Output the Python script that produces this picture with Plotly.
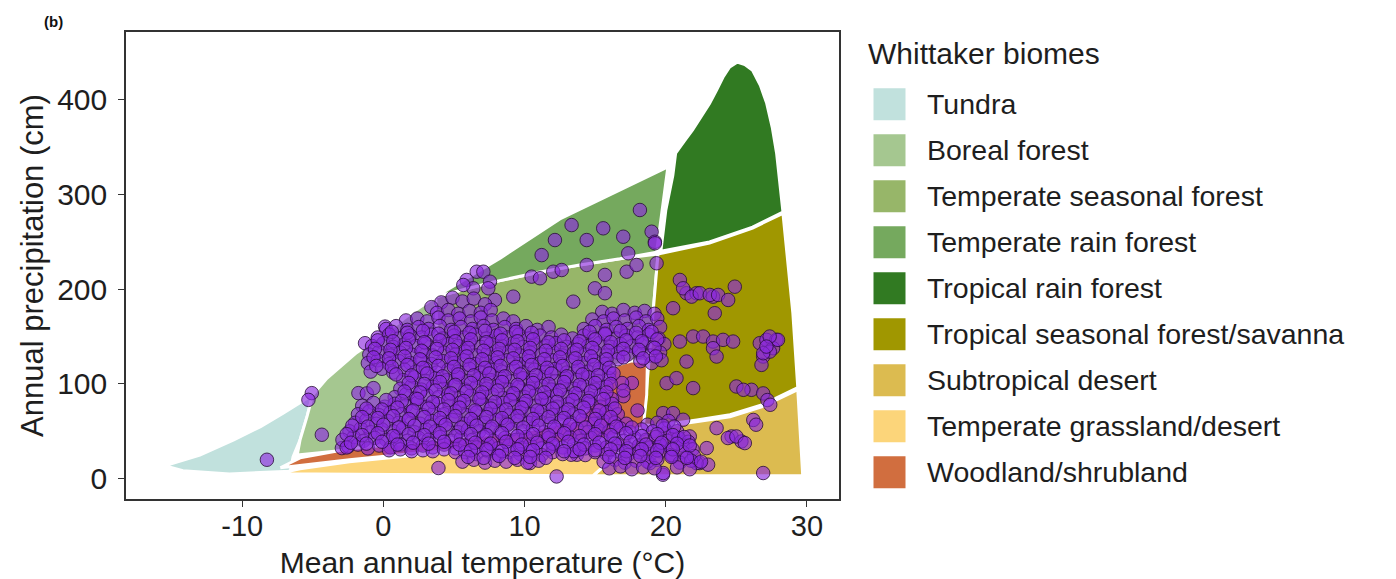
import plotly.graph_objects as go

# ---------------- data ----------------
biome_names = ["Tundra", "Boreal forest", "Temperate seasonal forest",
               "Temperate rain forest", "Tropical rain forest",
               "Tropical seasonal forest/savanna", "Subtropical desert",
               "Temperate grassland/desert", "Woodland/shrubland"]
biome_colors = ["#C1E1DD", "#A5C790", "#97B669", "#75A95E", "#317A22",
                "#A09700", "#DCBB50", "#FCD57A", "#D16E3F"]

tundra_temp = [-15.5, -13.0, -10.6, -8.7, -7.1, -5.9, -5.0, -5.4, -5.9, -6.4, -6.6, -10.9, -14.2]
tundra_precip = [13.7, 25, 41, 55, 69, 80, 88.5, 66, 41, 23, 8, 5, 8.5]

boreal_temp = [-6.1, -5.9, -5.4, -5.0, -4.0, -1.9, -0.2, 1.9, 3.7, 3.9, 4.2, 1.9, -2.4]
boreal_precip = [25, 41, 66, 88.5, 106, 133, 150, 174, 192, 125, 38, 35, 30.5]

temp_seasonal_temp = [3.7, 7.8, 11.1, 13.9, 16.75, 19.45, 19.1, 18.85, 17.6, 16.4, 15.7, 15.1, 13.6, 10.4, 6.1, 4.2, 3.9]
temp_seasonal_precip = [192, 207.6, 218, 225.5, 232, 237, 175, 122, 124.3, 119, 104.3, 83.2, 62.2, 51.6, 44.3, 40, 125]

temp_rain_temp = [3.7, 8.3, 12.5, 16.75, 20.15, 19.35, 16.75, 13.9, 11.1, 7.8]
temp_rain_precip = [192, 233, 274, 304.5, 329, 239, 232, 225.5, 218, 207.6]

trop_rain_temp = [20.7, 20.5, 20.0, 19.65, 23.1, 26.15, 28.3, 28.1, 27.85, 27.55, 27.15, 26.7, 26.15,
                  25.6, 25.05, 24.5, 24.05, 23.6, 23.1, 22.5, 21.9, 21.3]
trop_rain_precip = [343.5, 320, 283, 240, 249.7, 265.5, 281.3, 310, 343.5, 370, 396, 415, 431,
                    437, 439.5, 434, 423.5, 410, 396, 382, 368, 356]

trop_seasonal_temp = [19.45, 19.1, 18.85, 18.6, 18.4, 19.25, 22.2, 24.55, 26.85, 29.35, 29.0, 28.3, 26.15, 23.1]
trop_seasonal_precip = [237, 175, 122, 86.5, 57, 56, 62, 67.5, 78, 96, 175, 280, 264.5, 248.7]

subtrop_temp = [14.85, 29.7, 29.35, 26.85, 24.55, 22.2, 19.25, 18.4]
subtrop_precip = [3.2, 3.2, 94, 76, 65.3, 60, 53.7, 49.5]

grassland_temp = [-7.5, 14.85, 18.2, 15.3, 11.1, 6.8, 2.6, -2.4, -5.9]
grassland_precip = [5.3, 3.2, 47.4, 39, 33.7, 29.5, 25.3, 17.9, 10.5]

woodland_temp = [-7.3, -5.9, -2.4, 1.9, 6.1, 10.4, 13.6, 15.1, 15.7, 16.4, 17.6, 18.7, 18.65, 18.4, 15.3, 11.1, 6.8, 2.6, -2.4, -5.9]
woodland_precip = [11.6, 22, 31.6, 37.9, 44.3, 51.6, 62.2, 83.2, 104.3, 119, 124.3, 123.3, 88.5, 53.7, 41, 35.8, 31.6, 27.4, 20, 13.7]

biome_polygons = [
    (tundra_temp, tundra_precip),
    (boreal_temp, boreal_precip),
    (temp_seasonal_temp, temp_seasonal_precip),
    (temp_rain_temp, temp_rain_precip),
    (trop_rain_temp, trop_rain_precip),
    (trop_seasonal_temp, trop_seasonal_precip),
    (subtrop_temp, subtrop_precip),
    (grassland_temp, grassland_precip),
    (woodland_temp, woodland_precip),
]

# sites: (mean annual temperature, annual precipitation)
sites_sparse = [
    (-8.25, 20), (-5.07, 90.3), (-5.31, 83.2), (-4.36, 46.4), (-1.3, 143), (0.12, 160.5),
    (-1.77, 90.3), (-1.17, 90), (-0.7, 95.6), (-2.94, 32.3), (-2.48, 34), (3.9, 11.3),
    (12.27, 2.4), (10.38, 16.5), (13.7, 25.3), (13.3, 25.3),
    (26.9, 6.0), (19.8, 4.2), (23.6, 53.4), (24.66, 44.6), (25.36, 39.3), (26.2, 62), (26.4, 57),
    (26.07, 93.8), (26.9, 90), (27.2, 83), (27.4, 78), (25.0, 97.3), (25.5, 93.8),
    (26.66, 143), (27.13, 146.5), (27.84, 146.5), (27.6, 137.7), (26.9, 128.9), (26.78, 120.1),
    (27.37, 134.1), (27.95, 146.5), (27.36, 150), (26.9, 132.4), (27.13, 139.4),
    (20.06, 100.8), (20.76, 106.1), (21.94, 95.6),
    (21.94, 150), (22.65, 150), (23.35, 144.7), (24.06, 146.5), (24.77, 144.7), (23.35, 137.7),
    (23.6, 128.9), (21.0, 144.7), (21.47, 123.6),
    (20.52, 179.9), (21.47, 195.7), (22.18, 195.7), (23.35, 192.1), (21.0, 209.7), (21.23, 200.9),
    (21.83, 192.1), (22.41, 195.7), (23.12, 193.9), (23.71, 193.9), (24.42, 188.6), (24.89, 202.6),
    (23.47, 174.6),
    (18.17, 283.5), (19.0, 260.6), (19.23, 250), (19.35, 227.3),
    (22.9, 32.3), (22.4, 16.5), (23.0, 14.8), (24.4, 42.9), (25.0, 44.6), (25.6, 37.6),
    (19.82, 69.2), (20.52, 69.2), (21.23, 62.2), (20.06, 48.2), (21.0, 41.1), (21.7, 44.6),
    (19.58, 34.0), (20.52, 23.5), (21.47, 23.5), (22.18, 16.5), (19.82, 6.0), (18.87, 16.5),
    (13.33, 267.6), (15.57, 264.2), (14.4, 251.8), (12.15, 251.8), (16.99, 255.3), (19.23, 248.4),
    (11.21, 235.9), (10.5, 213.2), (11.09, 211.5), (12.03, 218.4), (12.63, 220.2), (14.4, 225.5),
    (15.69, 215), (17.23, 218.4), (17.93, 225.5), (17.34, 237.8), (14.98, 200.9), (15.69, 195.7),
    (9.2, 192.1), (7.9, 188.6), (13.45, 186.8), (5.9, 209.7), (6.61, 218.4), (7.08, 218.4),
    (7.55, 207.9), (6.37, 200.9), (5.66, 204.4), (7.43, 200.9),
    (4.1, 186), (4.9, 191), (5.6, 187), (6.4, 190), (3.4, 181), (7.2, 184),
    (17.6, 101), (17.0, 87), (18.0, 72),
]

sites_cloud_a = [
    (3.8, 175), (4.6, 178), (5.3, 174), (6.1, 177), (6.9, 175), (7.6, 178), (15.5, 176), (16.2, 174),
    (17.0, 178), (17.8, 175), (18.5, 177), (19.2, 174),
    (1.6, 167), (2.4, 169), (3.1, 166), (3.9, 170), (4.6, 167), (5.4, 169), (6.2, 166), (6.9, 170),
    (7.7, 167), (8.5, 169), (9.2, 166), (14.8, 168), (15.6, 166), (16.3, 169), (17.1, 167), (17.9, 170),
    (18.6, 166), (19.4, 169),
    (0.2, 158), (0.9, 161), (1.7, 157), (2.5, 160), (3.2, 158), (4.0, 161), (4.8, 157), (5.5, 160),
    (6.3, 158), (7.1, 161), (7.8, 157), (8.6, 160), (9.4, 158), (10.1, 161), (10.9, 157), (11.7, 160),
    (14.2, 158), (15.0, 161), (15.8, 157), (16.5, 160), (17.3, 158), (18.1, 161), (18.8, 157), (19.6, 160),
    (-0.4, 149), (0.4, 152), (1.1, 148), (1.9, 151), (2.7, 149), (3.4, 152), (4.2, 148), (5.0, 151),
    (5.7, 149), (6.5, 152), (7.3, 148), (8.0, 151), (8.8, 149), (9.6, 152), (10.3, 148), (11.1, 151),
    (11.9, 149), (12.6, 152), (13.4, 148), (14.2, 151), (14.9, 149), (15.7, 152), (16.5, 148), (17.2, 151),
    (18.0, 149), (18.8, 152), (19.5, 148),
    (-0.8, 140), (0.0, 143), (0.7, 139), (1.5, 142), (2.3, 140), (3.0, 143), (3.8, 139), (4.6, 142),
    (5.3, 140), (6.1, 143), (6.9, 139), (7.6, 142), (8.4, 140), (9.2, 143), (9.9, 139), (10.7, 142),
    (11.5, 140), (12.2, 143), (13.0, 139), (13.8, 142), (14.5, 140), (15.3, 143), (16.1, 139), (16.8, 142),
    (17.6, 140), (18.4, 143), (19.1, 139), (19.9, 142),
    (-1.0, 131), (-0.3, 134), (0.5, 130), (1.2, 133), (2.0, 131), (2.8, 134), (3.5, 130), (4.3, 133),
    (5.1, 131), (5.8, 134), (6.6, 130), (7.4, 133), (8.1, 131), (8.9, 134), (9.7, 130), (10.4, 133),
    (11.2, 131), (12.0, 134), (12.7, 130), (13.5, 133), (14.3, 131), (15.0, 134), (15.8, 130), (16.6, 133),
    (17.3, 131), (18.1, 134), (18.9, 130), (19.6, 133),
    (-1.1, 122), (-0.4, 125), (0.4, 121), (1.1, 124), (1.9, 122), (2.7, 125), (3.4, 121), (4.2, 124),
    (5.0, 122), (5.7, 125), (6.5, 121), (7.3, 124), (8.0, 122), (8.8, 125), (9.6, 121), (10.3, 124),
    (11.1, 122), (11.9, 125), (12.6, 121), (13.4, 124), (14.2, 122), (14.9, 125), (15.7, 121), (16.6, 126),
    (18.2, 124), (19.0, 122), (19.7, 125),
    (-0.9, 113), (-0.1, 116), (0.7, 112), (1.5, 115), (2.3, 113), (3.0, 116), (3.8, 112), (4.6, 115),
    (5.3, 113), (6.1, 116), (6.9, 112), (7.6, 115), (8.4, 113), (9.2, 116), (9.9, 112), (10.7, 115),
    (11.5, 113), (12.2, 116), (13.0, 112), (13.8, 115), (14.5, 113), (15.3, 116), (16.0, 112),
    (1.4, 104), (2.2, 107), (3.0, 103), (3.7, 106), (4.5, 104), (5.3, 107), (6.0, 103), (6.8, 106),
    (7.6, 104), (8.3, 107), (9.1, 103), (9.9, 106), (10.6, 104), (11.4, 107), (12.2, 103), (12.9, 106),
    (13.7, 104), (14.5, 107), (15.2, 103), (16.0, 106), (16.9, 101),
    (1.2, 95), (2.0, 98), (2.7, 94), (3.5, 97), (4.3, 95), (5.0, 98), (5.8, 94), (6.6, 97),
    (7.3, 95), (8.1, 98), (8.9, 94), (9.6, 97), (10.4, 95), (11.2, 98), (11.9, 94), (12.7, 97),
    (13.5, 95), (14.2, 98), (15.0, 94), (15.8, 97), (17.0, 93),
    (0.8, 86), (1.6, 89), (2.3, 85), (3.1, 88), (3.9, 86), (4.6, 89), (5.4, 85), (6.2, 88),
    (6.9, 86), (7.7, 89), (8.5, 85), (9.2, 88), (10.0, 86), (10.8, 89), (11.5, 85), (12.3, 88),
    (13.1, 86), (13.8, 89), (14.6, 85), (15.4, 88), (16.2, 84),
    (-1.5, 77), (-0.7, 80), (0.1, 76), (0.8, 79), (1.6, 77), (2.4, 80), (3.1, 76), (3.9, 79),
    (4.7, 77), (5.4, 80), (6.2, 76), (7.0, 79), (7.7, 77), (8.5, 80), (9.3, 76), (10.0, 79),
    (10.8, 77), (11.6, 80), (12.3, 76), (13.1, 79), (13.9, 77), (14.6, 80), (15.4, 76), (16.2, 79),
    (-1.8, 68), (-1.0, 71), (-0.3, 67), (0.5, 70), (1.3, 68), (2.0, 71), (2.8, 67), (3.6, 70),
    (4.3, 68), (5.1, 71), (5.9, 67), (6.6, 70), (7.4, 68), (8.2, 71), (8.9, 67), (9.7, 70),
    (10.5, 68), (11.2, 71), (12.0, 67), (12.8, 70), (13.5, 68), (14.3, 71), (15.1, 67), (15.8, 70),
    (16.6, 68),
    (-2.0, 59), (-1.2, 62), (-0.5, 58), (0.3, 61), (1.1, 59), (1.8, 62), (2.6, 58), (3.4, 61),
    (4.1, 59), (4.9, 62), (5.7, 58), (6.4, 61), (7.2, 59), (8.0, 62), (8.7, 58), (9.5, 61),
    (10.3, 59), (11.0, 62), (11.8, 58), (12.6, 61), (13.3, 59), (14.1, 62), (14.9, 58), (15.6, 61),
    (16.4, 59), (17.2, 58), (18.7, 57), (19.4, 59), (20.2, 61),
    (-2.4, 50), (-1.6, 53), (-0.9, 49), (-0.1, 52), (0.7, 50), (1.4, 53), (2.2, 49), (3.0, 52),
    (3.7, 50), (4.5, 53), (5.3, 49), (6.0, 52), (6.8, 50), (7.6, 53), (8.3, 49), (9.1, 52),
    (9.9, 50), (10.6, 53), (11.4, 49), (12.2, 52), (12.9, 50), (13.7, 53), (14.5, 49), (15.2, 52),
    (16.0, 50), (16.8, 53), (17.5, 49), (18.3, 52), (19.1, 50), (19.9, 53), (20.8, 50),
    (-2.9, 41), (-2.1, 44), (-1.4, 40), (-0.6, 43), (0.2, 41), (0.9, 44), (1.7, 40), (2.5, 43),
    (3.2, 41), (4.0, 44), (4.8, 40), (5.5, 43), (6.3, 41), (7.1, 44), (7.8, 40), (8.6, 43),
    (9.4, 41), (10.1, 44), (10.9, 40), (11.7, 43), (12.4, 41), (13.2, 44), (14.0, 40), (14.7, 43),
    (15.5, 41), (16.3, 44), (17.0, 40), (17.8, 43), (18.6, 41), (19.3, 44), (20.1, 40), (20.9, 43),
    (21.6, 39),
    (-2.6, 33), (-1.8, 36), (-1.1, 32), (-0.3, 35), (0.5, 33), (1.2, 36), (2.0, 32), (2.8, 35),
    (3.5, 33), (4.3, 36), (5.1, 32), (5.8, 35), (6.6, 33), (7.4, 36), (8.1, 32), (8.9, 35),
    (9.7, 33), (10.4, 36), (11.2, 32), (12.0, 35), (12.7, 33), (13.5, 36), (14.3, 32), (15.0, 35),
    (15.8, 33), (16.6, 36), (17.3, 32), (18.1, 35), (18.9, 33), (19.6, 36), (20.4, 32), (21.2, 35),
    (21.9, 31),
    (0.4, 30), (1.2, 31), (2.0, 29), (2.8, 30), (3.5, 29), (4.3, 31), (5.1, 28), (5.8, 28),
    (6.6, 26), (7.4, 29), (8.1, 25), (8.9, 28), (9.7, 26), (10.4, 29), (11.2, 25), (12.0, 28),
    (12.7, 26), (13.5, 29), (14.3, 25), (15.0, 28), (15.8, 26), (16.6, 29), (17.3, 25), (18.1, 28),
    (18.9, 26), (19.6, 29), (20.4, 25), (21.2, 28), (22.0, 24),
    (5.6, 18), (6.4, 20), (7.2, 17), (7.9, 19), (8.7, 18), (9.5, 20), (10.2, 17), (11.0, 19),
    (15.6, 18), (16.4, 20), (17.1, 17), (17.9, 19), (18.7, 18), (19.4, 20), (21.0, 17), (21.8, 19),
    (22.5, 18),
    (16.0, 11), (16.8, 13), (17.6, 10), (18.4, 12), (19.2, 11), (20.8, 12), (21.7, 10),
]

sites_cloud_b = [
    (0.6, 155), (1.7, 154), (2.8, 156), (3.9, 153), (5.0, 155), (6.1, 154), (7.2, 156), (8.3, 153),
    (9.4, 155), (10.5, 154), (14.6, 155), (15.7, 153), (16.8, 156), (17.9, 154), (19.0, 155),
    (-0.4, 146), (0.7, 145), (1.8, 147), (2.9, 144), (4.0, 146), (5.1, 145), (6.2, 147), (7.3, 144),
    (8.4, 146), (9.5, 145), (10.6, 147), (11.7, 144), (12.8, 146), (13.9, 145), (15.0, 147), (16.1, 144),
    (17.2, 146), (18.3, 145), (19.4, 147),
    (-0.6, 137), (0.5, 136), (1.6, 138), (2.7, 135), (3.8, 137), (4.9, 136), (6.0, 138), (7.1, 135),
    (8.2, 137), (9.3, 136), (10.4, 138), (11.5, 135), (12.6, 137), (13.7, 136), (14.8, 138), (15.9, 135),
    (17.0, 137), (18.1, 136), (19.2, 138),
    (-0.7, 128), (0.4, 127), (1.5, 129), (2.6, 126), (3.7, 128), (4.8, 127), (5.9, 129), (7.0, 126),
    (8.1, 128), (9.2, 127), (10.3, 129), (11.4, 126), (12.5, 128), (13.6, 127), (14.7, 129), (15.8, 126),
    (17.0, 128), (18.4, 127), (19.3, 129),
    (-0.5, 119), (0.6, 118), (1.7, 120), (2.8, 117), (3.9, 119), (5.0, 118), (6.1, 120), (7.2, 117),
    (8.3, 119), (9.4, 118), (10.5, 120), (11.6, 117), (12.7, 119), (13.8, 118), (14.9, 120), (16.0, 117),
    (0.9, 110), (2.0, 109), (3.1, 111), (4.2, 108), (5.3, 110), (6.4, 109), (7.5, 111), (8.6, 108),
    (9.7, 110), (10.8, 109), (11.9, 111), (13.0, 108), (14.1, 110), (15.2, 109), (16.3, 111),
    (1.8, 101), (2.9, 100), (4.0, 102), (5.1, 99), (6.2, 101), (7.3, 100), (8.4, 102), (9.5, 99),
    (10.6, 101), (11.7, 100), (12.8, 102), (13.9, 99), (15.0, 101), (16.1, 100),
    (1.5, 92), (2.6, 91), (3.7, 93), (4.8, 90), (5.9, 92), (7.0, 91), (8.1, 93), (9.2, 90),
    (10.3, 92), (11.4, 91), (12.5, 93), (13.6, 90), (14.7, 92), (15.8, 91),
    (0.2, 83), (1.3, 82), (2.4, 84), (3.5, 81), (4.6, 83), (5.7, 82), (6.8, 84), (7.9, 81),
    (9.0, 83), (10.1, 82), (11.2, 84), (12.3, 81), (13.4, 83), (14.5, 82), (15.6, 84),
    (-1.2, 74), (-0.1, 73), (1.0, 75), (2.1, 72), (3.2, 74), (4.3, 73), (5.4, 75), (6.5, 72),
    (7.6, 74), (8.7, 73), (9.8, 75), (10.9, 72), (12.0, 74), (13.1, 73), (14.2, 75), (15.3, 72),
    (16.4, 74),
    (-1.5, 65), (-0.4, 64), (0.7, 66), (1.8, 63), (2.9, 65), (4.0, 64), (5.1, 66), (6.2, 63),
    (7.3, 65), (8.4, 64), (9.5, 66), (10.6, 63), (11.7, 65), (12.8, 64), (13.9, 66), (15.0, 63),
    (16.1, 65),
    (-2.2, 56), (-1.1, 55), (0.0, 57), (1.1, 54), (2.2, 56), (3.3, 55), (4.4, 57), (5.5, 54),
    (6.6, 56), (7.7, 55), (8.8, 57), (9.9, 54), (11.0, 56), (12.1, 55), (13.2, 57), (14.3, 54),
    (15.4, 56), (16.5, 55), (17.6, 54), (19.8, 56), (20.6, 55),
    (-2.6, 47), (-1.5, 46), (-0.4, 48), (0.7, 45), (1.8, 47), (2.9, 46), (4.0, 48), (5.1, 45),
    (6.2, 47), (7.3, 46), (8.4, 48), (9.5, 45), (10.6, 47), (11.7, 46), (12.8, 48), (13.9, 45),
    (15.0, 47), (16.1, 46), (17.2, 48), (18.3, 45), (19.4, 47), (20.5, 46), (21.3, 44),
    (-2.3, 38), (-1.2, 37), (-0.1, 39), (1.0, 36), (2.1, 38), (3.2, 37), (4.3, 39), (5.4, 36),
    (6.5, 38), (7.6, 37), (8.7, 39), (9.8, 36), (10.9, 38), (12.0, 37), (13.1, 39), (14.2, 36),
    (15.3, 38), (16.4, 37), (17.5, 39), (18.6, 36), (19.7, 38), (20.8, 37), (21.7, 35),
    (6.2, 30), (7.3, 31), (8.4, 29), (9.5, 31), (10.6, 30), (11.7, 31), (12.8, 29), (13.9, 31),
    (15.0, 30), (16.1, 31), (17.2, 29), (18.3, 31), (19.4, 30), (20.5, 31),
    (6.0, 23), (7.1, 22), (8.2, 24), (9.3, 22), (10.4, 23), (11.5, 22), (16.0, 23), (17.1, 22),
    (18.2, 24), (19.3, 22), (20.4, 23), (21.5, 22),
]

all_sites = sites_sparse + sites_cloud_a + sites_cloud_b
site_temp = [t for t, p in all_sites]
site_precip = [p for t, p in all_sites]

x_ticks = [-10, 0, 10, 20, 30]
x_ticklabels = ["-10", "0", "10", "20", "30"]
y_ticks = [0, 100, 200, 300, 400]
y_ticklabels = ["0", "100", "200", "300", "400"]

# ---------------- figure ----------------
# the page body has an 8 px margin; the figure is sized so that it fits the window
OFF = 8
W, H = 1396 - OFF, 579 - OFF
ML, MT = 126 - OFF, 32 - OFF
PLOT_R, PLOT_B = 839 - OFF, 499 - OFF
MR, MB = W - PLOT_R, H - PLOT_B
PW, PH = W - ML - MR, H - MT - MB
FONT = "Liberation Sans, Arial, Helvetica, sans-serif"
TXT = "#1e1e1e"


def px_x(px):
    return (px - OFF - ML) / PW


def px_y(py):
    return (H - MB - (py - OFF)) / PH


fig = go.Figure()
for name, color, (tx, py) in zip(biome_names, biome_colors, biome_polygons):
    fig.add_trace(go.Scatter(
        x=tx + [tx[0]], y=py + [py[0]], mode="lines", fill="toself",
        fillcolor=color, line=dict(color="white", width=3),
        name=name, showlegend=False, hoverinfo="name"))

fig.add_trace(go.Scatter(
    x=site_temp, y=site_precip, mode="markers", name="sites", showlegend=False,
    marker=dict(size=13.5, color="rgba(140,40,222,0.64)",
                line=dict(color="rgba(40,12,55,0.8)", width=1))))

axis_common = dict(showgrid=False, zeroline=False, showline=True, mirror=True,
                   linecolor="#333333", linewidth=1.5, ticks="outside", ticklen=6,
                   tickwidth=1.3, tickcolor="#333333")

fig.update_xaxes(range=[-18.23, 32.27], tickvals=x_ticks, ticktext=x_ticklabels,
                 tickfont=dict(family=FONT, size=29, color=TXT), ticklabelstandoff=-6,
                 title=dict(text="Mean annual temperature (°C)",
                            font=dict(family=FONT, size=30, color=TXT), standoff=12),
                 **axis_common)
fig.update_yaxes(range=[-21.4, 471.3], tickvals=y_ticks, ticktext=y_ticklabels,
                 tickfont=dict(family=FONT, size=30, color=TXT), ticklabelstandoff=5,
                 title=dict(text="Annual precipitation (cm)",
                            font=dict(family=FONT, size=31, color=TXT), standoff=4),
                 **axis_common)

annotations = [
    dict(text="<b>(b)</b>", x=px_x(53), y=px_y(21), xref="paper", yref="paper",
         showarrow=False, xanchor="center", yanchor="middle",
         font=dict(family=FONT, size=15, color="#111111")),
    dict(text="Whittaker biomes", x=px_x(866), y=px_y(53), xref="paper", yref="paper",
         showarrow=False, xanchor="left", yanchor="middle",
         font=dict(family=FONT, size=30, color=TXT)),
]
shapes = []
key_cy0, key_step, key_half = 104.2, 46.0, 16
for i, (name, color) in enumerate(zip(biome_names, biome_colors)):
    cy = key_cy0 + i * key_step
    shapes.append(dict(type="rect", xref="paper", yref="paper",
                       x0=px_x(873.5), x1=px_x(905.5),
                       y0=px_y(cy + key_half), y1=px_y(cy - key_half),
                       fillcolor=color, line=dict(width=0)))
    annotations.append(dict(text=name, x=px_x(925), y=px_y(cy), xref="paper", yref="paper",
                            showarrow=False, xanchor="left", yanchor="middle",
                            font=dict(family=FONT, size=28.5, color=TXT)))

fig.update_layout(width=W, height=H, margin=dict(l=ML, r=MR, t=MT, b=MB, autoexpand=False),
                  plot_bgcolor="white", paper_bgcolor="white", showlegend=False,
                  font=dict(family=FONT), annotations=annotations, shapes=shapes)

fig.write_html("out.html")
